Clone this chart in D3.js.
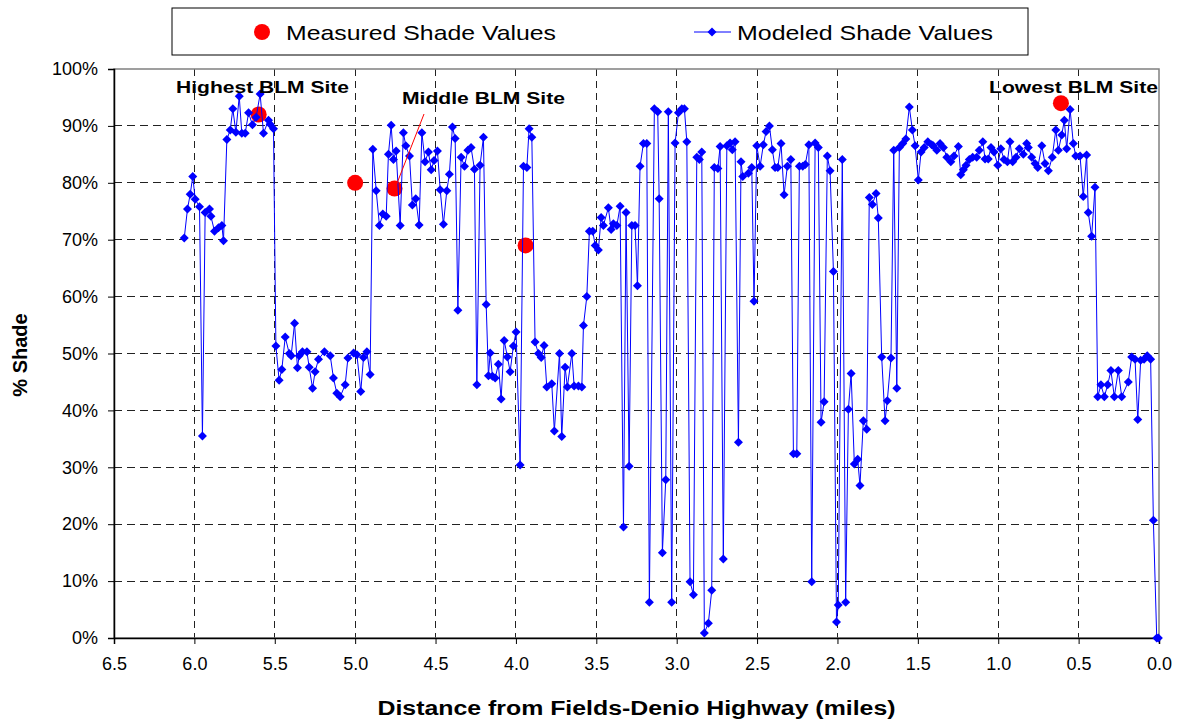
<!DOCTYPE html>
<html>
<head>
<meta charset="utf-8">
<script src="https://cdnjs.cloudflare.com/ajax/libs/d3/7.8.5/d3.min.js"></script>
<style>
  body { margin: 0; background: #fff; }
  svg text { font-family: Arial, "Liberation Sans", sans-serif; fill: #000; }
</style>
</head>
<body>
<svg id="chart" width="1182" height="725"></svg>
<script>
// modeled shade, distance in miles from the highway
var modeledDist = [
  6.063, 6.043, 6.026, 6.010, 5.995, 5.968, 5.950, 5.933, 5.906, 5.897,
  5.875, 5.850, 5.829, 5.819, 5.798, 5.777, 5.761, 5.742, 5.721, 5.705,
  5.684, 5.663, 5.639, 5.616, 5.591, 5.570, 5.539, 5.529, 5.508, 5.493,
  5.473, 5.456, 5.435, 5.410, 5.398, 5.377, 5.359, 5.348, 5.328, 5.300,
  5.286, 5.265, 5.249, 5.228, 5.191, 5.155, 5.135, 5.114, 5.093, 5.062,
  5.045, 5.010, 4.989, 4.965, 4.948, 4.927, 4.907, 4.890, 4.869, 4.849,
  4.828, 4.807, 4.793, 4.776, 4.762, 4.745, 4.720, 4.700, 4.685, 4.662,
  4.644, 4.623, 4.602, 4.585, 4.565, 4.544, 4.527, 4.509, 4.488, 4.471,
  4.451, 4.430, 4.414, 4.395, 4.378, 4.361, 4.341, 4.320, 4.299, 4.279,
  4.258, 4.243, 4.223, 4.202, 4.185, 4.171, 4.160, 4.146, 4.129, 4.109,
  4.092, 4.073, 4.053, 4.036, 4.016, 3.999, 3.974, 3.953, 3.932, 3.918,
  3.901, 3.881, 3.860, 3.843, 3.825, 3.808, 3.777, 3.761, 3.729, 3.715,
  3.694, 3.680, 3.652, 3.638, 3.611, 3.590, 3.580, 3.559, 3.543, 3.522,
  3.507, 3.487, 3.470, 3.456, 3.425, 3.408, 3.394, 3.372, 3.352, 3.331,
  3.315, 3.296, 3.279, 3.259, 3.244, 3.228, 3.207, 3.186, 3.170, 3.139,
  3.118, 3.109, 3.089, 3.068, 3.052, 3.031, 3.010, 2.989, 2.968, 2.952,
  2.937, 2.917, 2.896, 2.875, 2.859, 2.844, 2.828, 2.803, 2.782, 2.766,
  2.744, 2.730, 2.710, 2.688, 2.668, 2.654, 2.637, 2.616, 2.600, 2.589,
  2.554, 2.533, 2.519, 2.502, 2.481, 2.461, 2.444, 2.423, 2.405, 2.388,
  2.371, 2.351, 2.332, 2.312, 2.290, 2.274, 2.253, 2.237, 2.216, 2.200,
  2.178, 2.160, 2.139, 2.119, 2.102, 2.083, 2.063, 2.046, 2.025, 2.006,
  1.995, 1.970, 1.949, 1.932, 1.915, 1.895, 1.874, 1.860, 1.839, 1.818,
  1.802, 1.783, 1.760, 1.746, 1.725, 1.704, 1.690, 1.667, 1.650, 1.631,
  1.615, 1.594, 1.575, 1.553, 1.534, 1.517, 1.497, 1.480, 1.460, 1.438,
  1.414, 1.404, 1.382, 1.362, 1.341, 1.320, 1.295, 1.275, 1.248, 1.233,
  1.217, 1.200, 1.180, 1.159, 1.134, 1.118, 1.096, 1.082, 1.062, 1.045,
  1.026, 1.003, 0.984, 0.964, 0.943, 0.927, 0.910, 0.889, 0.869, 0.844,
  0.823, 0.813, 0.792, 0.771, 0.754, 0.729, 0.709, 0.688, 0.664, 0.642,
  0.626, 0.605, 0.589, 0.574, 0.553, 0.533, 0.518, 0.491, 0.471, 0.450,
  0.440, 0.419, 0.398, 0.381, 0.361, 0.340, 0.319, 0.299, 0.278, 0.253,
  0.232, 0.191, 0.170, 0.149, 0.132, 0.114, 0.093, 0.073, 0.052, 0.035,
  0.014, 0.004
];

var modeledShade = [
  70.3, 75.4, 78.0, 81.1, 77.1, 75.8, 35.5, 74.8, 75.4, 74.1,
  71.5, 72.1, 72.5, 69.8, 87.6, 89.3, 93.0, 88.9, 95.2, 88.7,
  88.7, 92.3, 90.2, 91.5, 95.6, 88.7, 91.0, 90.3, 89.5, 51.3,
  45.3, 47.2, 52.9, 50.0, 49.6, 55.3, 47.5, 49.6, 50.3, 50.3,
  47.6, 43.9, 46.8, 49.0, 50.3, 49.6, 45.7, 43.0, 42.4, 44.5,
  49.2, 50.1, 49.8, 43.3, 49.3, 50.3, 46.3, 85.9, 78.6, 72.5,
  74.5, 74.1, 85.0, 90.1, 84.1, 85.6, 72.5, 88.8, 86.5, 84.7,
  76.1, 77.2, 72.6, 88.8, 83.7, 85.4, 82.3, 83.9, 85.6, 78.8,
  72.7, 78.6, 81.5, 89.8, 87.8, 57.6, 84.5, 82.9, 85.7, 86.2,
  82.4, 44.5, 83.1, 88.0, 58.6, 46.1, 50.1, 46.0, 45.7, 48.1,
  42.0, 52.3, 49.4, 46.8, 51.3, 53.8, 30.4, 82.9, 82.7, 89.5,
  88.0, 52.0, 50.0, 49.3, 51.4, 44.1, 44.7, 36.4, 50.0, 35.4,
  47.6, 44.1, 50.0, 44.3, 44.3, 44.1, 54.9, 60.0, 71.5, 71.5,
  69.0, 68.2, 73.9, 72.5, 75.6, 71.8, 72.8, 72.5, 75.9, 19.5,
  74.8, 30.2, 72.5, 72.5, 61.9, 82.9, 86.9, 86.9, 6.3, 93.0,
  92.5, 77.2, 15.0, 27.8, 92.5, 6.3, 87.0, 92.3, 93.0, 93.0,
  87.2, 9.9, 7.6, 84.5, 84.1, 85.4, 0.9, 2.6, 8.4, 82.7,
  82.5, 86.4, 13.9, 86.5, 87.0, 85.8, 87.2, 34.4, 83.7, 81.1,
  81.7, 82.7, 59.2, 86.5, 82.9, 86.7, 89.0, 90.0, 85.8, 82.7,
  82.7, 86.9, 77.9, 82.9, 84.1, 32.4, 32.4, 82.9, 82.9, 83.2,
  86.7, 9.9, 87.0, 86.2, 37.9, 41.5, 84.7, 82.1, 64.4, 2.8,
  5.8, 84.1, 6.3, 40.2, 46.5, 30.6, 31.4, 26.8, 38.2, 36.7,
  77.4, 76.2, 78.1, 73.8, 49.4, 38.2, 41.7, 49.2, 85.7, 43.9,
  86.2, 86.9, 87.7, 93.3, 89.3, 86.5, 80.5, 85.4, 86.2, 87.2,
  86.7, 86.5, 85.7, 86.9, 86.2, 84.5, 83.7, 84.7, 86.4, 81.4,
  82.3, 83.1, 84.1, 84.5, 84.5, 85.7, 87.2, 84.2, 84.2, 86.2,
  85.4, 83.1, 86.0, 84.1, 83.7, 87.2, 83.7, 84.5, 86.0, 85.0,
  86.9, 86.2, 84.5, 83.4, 82.7, 86.5, 83.4, 82.1, 84.5, 89.3,
  85.7, 88.4, 91.0, 86.0, 92.9, 86.9, 84.7, 84.7, 77.6, 84.9,
  74.8, 70.6, 79.2, 42.4, 44.5, 42.4, 44.5, 47.0, 42.4, 47.0,
  42.4, 45.0, 49.4, 49.0, 38.4, 48.8, 49.0, 49.6, 49.0, 20.7,
  0.0, 0.0
];

// measured shade at the BLM sites
var measuredDist = [5.60, 5.00, 4.755, 3.94, 0.61];
var measuredShade = [92, 80, 79, 69, 94];

var xTicks = [6.5, 6.0, 5.5, 5.0, 4.5, 4.0, 3.5, 3.0, 2.5, 2.0, 1.5, 1.0, 0.5, 0.0];
var yTicks = [0, 10, 20, 30, 40, 50, 60, 70, 80, 90, 100];

var siteLabels = ["Highest BLM Site", "Middle BLM Site", "Lowest BLM Site"];

var svg = d3.select("#chart");

// plot area edges
var plotLeft = 114, plotRight = 1159, plotTop = 69, plotBottom = 638;

var x = d3.scaleLinear().domain([6.5, 0]).range([plotLeft, plotRight]);
var y = d3.scaleLinear().domain([0, 100]).range([plotBottom, plotTop]);

// grid lines
svg.append("g").selectAll("line").data(yTicks.slice(1, -1)).enter().append("line")
    .attr("x1", plotLeft).attr("x2", plotRight)
    .attr("y1", function(d) { return y(d); }).attr("y2", function(d) { return y(d); })
    .attr("stroke", "#222").attr("stroke-width", 1).attr("stroke-dasharray", "8,5")
    .attr("shape-rendering", "crispEdges");
svg.append("g").selectAll("line").data(xTicks.slice(1, -1)).enter().append("line")
    .attr("y1", plotTop).attr("y2", plotBottom)
    .attr("x1", function(d) { return x(d); }).attr("x2", function(d) { return x(d); })
    .attr("stroke", "#222").attr("stroke-width", 1).attr("stroke-dasharray", "7,5")
    .attr("shape-rendering", "crispEdges");

// plot border (grey on top and right)
svg.append("rect")
    .attr("x", plotLeft).attr("y", plotTop)
    .attr("width", plotRight - plotLeft).attr("height", plotBottom - plotTop)
    .attr("fill", "none").attr("stroke", "#808080").attr("stroke-width", 1.5);

// axes
var xAxis = d3.axisBottom(x).tickValues(xTicks).tickSize(6).tickFormat(d3.format(".1f"));
var yAxis = d3.axisLeft(y).tickValues(yTicks).tickSize(6).tickFormat(function(d) { return d + "%"; });

var gx = svg.append("g").attr("transform", "translate(0," + plotBottom + ")").call(xAxis);
gx.select(".domain").attr("stroke", "#000").attr("stroke-width", 1.5);
gx.selectAll(".tick text").attr("font-size", "18px").attr("dy", "1.25em")
    .attr("font-family", "Arial, 'Liberation Sans', sans-serif");

var gy = svg.append("g").attr("transform", "translate(" + plotLeft + ",0)").call(yAxis);
gy.select(".domain").attr("stroke", "#000").attr("stroke-width", 1.5);
gy.selectAll(".tick text").attr("font-size", "18px").attr("x", -16)
    .attr("font-family", "Arial, 'Liberation Sans', sans-serif");

// axis titles
svg.append("text")
    .attr("x", (plotLeft + plotRight) / 2).attr("y", 715)
    .attr("text-anchor", "middle").attr("font-weight", "bold").attr("font-size", "20px")
    .attr("textLength", 518).attr("lengthAdjust", "spacingAndGlyphs")
    .text("Distance from Fields-Denio Highway (miles)");
svg.append("text")
    .attr("transform", "translate(27,355) rotate(-90)")
    .attr("text-anchor", "middle").attr("font-weight", "bold").attr("font-size", "20px")
    .text("% Shade");

// measured points (first series, drawn underneath)
svg.append("g").selectAll("circle").data(measuredShade).enter().append("circle")
    .attr("cx", function(d, i) { return x(measuredDist[i]); })
    .attr("cy", function(d) { return y(d); })
    .attr("r", 8).attr("fill", "#ff0000");

// modeled series
var line = d3.line()
    .x(function(d, i) { return x(modeledDist[i]); })
    .y(function(d) { return y(d); });

svg.append("path").datum(modeledShade)
    .attr("d", line).attr("fill", "none")
    .attr("stroke", "#0000ff").attr("stroke-width", 1);

var diamond = "M0,-4.5L4.5,0L0,4.5L-4.5,0Z";
svg.append("g").selectAll("path").data(modeledShade).enter().append("path")
    .attr("d", diamond)
    .attr("transform", function(d, i) { return "translate(" + x(modeledDist[i]) + "," + y(d) + ")"; })
    .attr("fill", "#0000ff");

// site labels
svg.append("line")
    .attr("x1", x(measuredDist[2]) + 2).attr("y1", y(measuredShade[2]) - 4)
    .attr("x2", 424).attr("y2", 114)
    .attr("stroke", "#ff0000").attr("stroke-width", 1);

var labelPos = [[176, 93, 173], [402, 104, 163], [989, 93, 169]];
svg.append("g").selectAll("text").data(siteLabels).enter().append("text")
    .attr("x", function(d, i) { return labelPos[i][0]; })
    .attr("y", function(d, i) { return labelPos[i][1]; })
    .attr("textLength", function(d, i) { return labelPos[i][2]; })
    .attr("lengthAdjust", "spacingAndGlyphs")
    .attr("font-weight", "bold").attr("font-size", "17px")
    .text(function(d) { return d; });

// legend
var legend = svg.append("g");
legend.append("rect")
    .attr("x", 172).attr("y", 8).attr("width", 856).attr("height", 47)
    .attr("fill", "#fff").attr("stroke", "#000").attr("stroke-width", 1);
legend.append("circle").attr("cx", 262).attr("cy", 32).attr("r", 8).attr("fill", "#ff0000");
legend.append("text").attr("x", 286).attr("y", 40).attr("font-size", "21px")
    .attr("textLength", 270).attr("lengthAdjust", "spacingAndGlyphs")
    .text("Measured Shade Values");
legend.append("line").attr("x1", 694).attr("x2", 731).attr("y1", 32).attr("y2", 32)
    .attr("stroke", "#0000ff").attr("stroke-width", 1);
legend.append("path").attr("d", diamond).attr("transform", "translate(712,32)").attr("fill", "#0000ff");
legend.append("text").attr("x", 737).attr("y", 40).attr("font-size", "21px")
    .attr("textLength", 256).attr("lengthAdjust", "spacingAndGlyphs")
    .text("Modeled Shade Values");
</script>
</body>
</html>
